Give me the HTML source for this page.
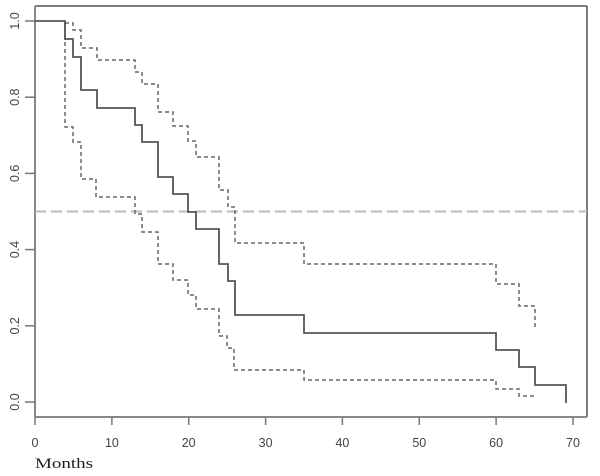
<!DOCTYPE html>
<html>
<head>
<meta charset="utf-8">
<style>
html,body{margin:0;padding:0;background:#fff;}
svg{display:block;}
</style>
</head>
<body>
<svg width="600" height="476" viewBox="0 0 600 476" xmlns="http://www.w3.org/2000/svg">
  <rect x="0" y="0" width="600" height="476" fill="#fff"/>
  <!-- box -->
  <line x1="35" y1="6" x2="587" y2="6" stroke="#555" stroke-width="1.5"/>
  <line x1="587" y1="6" x2="587" y2="417" stroke="#555" stroke-width="1.5"/>
  <line x1="35" y1="6" x2="35" y2="417" stroke="#888" stroke-width="2"/>
  <line x1="35" y1="417" x2="587" y2="417" stroke="#888" stroke-width="2"/>

  <!-- y ticks -->
  <g stroke="#777" stroke-width="1.5">
    <line x1="25" y1="21" x2="35" y2="21"/>
    <line x1="25" y1="97.2" x2="35" y2="97.2"/>
    <line x1="25" y1="173.4" x2="35" y2="173.4"/>
    <line x1="25" y1="249.6" x2="35" y2="249.6"/>
    <line x1="25" y1="325.8" x2="35" y2="325.8"/>
    <line x1="25" y1="402" x2="35" y2="402"/>
  </g>
  <g font-family="Liberation Sans, DejaVu Sans, sans-serif" font-size="12.5" fill="#444" text-anchor="middle">
    <text transform="translate(19,21) rotate(-90)">1.0</text>
    <text transform="translate(19,97.2) rotate(-90)">0.8</text>
    <text transform="translate(19,173.4) rotate(-90)">0.6</text>
    <text transform="translate(19,249.6) rotate(-90)">0.4</text>
    <text transform="translate(19,325.8) rotate(-90)">0.2</text>
    <text transform="translate(19,402) rotate(-90)">0.0</text>
  </g>

  <!-- x ticks -->
  <g stroke="#777" stroke-width="1.5">
    <line x1="35" y1="417" x2="35" y2="425"/>
    <line x1="111.9" y1="417" x2="111.9" y2="425"/>
    <line x1="188.7" y1="417" x2="188.7" y2="425"/>
    <line x1="265.6" y1="417" x2="265.6" y2="425"/>
    <line x1="342.4" y1="417" x2="342.4" y2="425"/>
    <line x1="419.3" y1="417" x2="419.3" y2="425"/>
    <line x1="496.1" y1="417" x2="496.1" y2="425"/>
    <line x1="573" y1="417" x2="573" y2="425"/>
  </g>
  <g font-family="Liberation Sans, DejaVu Sans, sans-serif" font-size="12.5" fill="#444" text-anchor="middle">
    <text x="35" y="447">0</text>
    <text x="111.9" y="447">10</text>
    <text x="188.7" y="447">20</text>
    <text x="265.6" y="447">30</text>
    <text x="342.4" y="447">40</text>
    <text x="419.3" y="447">50</text>
    <text x="496.1" y="447">60</text>
    <text x="573" y="447">70</text>
  </g>
  <text x="35" y="468" font-family="Liberation Serif, serif" font-size="15" fill="#222" textLength="58" lengthAdjust="spacingAndGlyphs">Months</text>

  <!-- median reference line -->
  <line x1="35" y1="211.5" x2="587" y2="211.5" stroke="#bbb" stroke-width="2" stroke-dasharray="11 5"/>

  <!-- confidence bands -->
  <path d="M65,23 H73 V30 H81 V48 H97 V60 H135 V72 H142 V84 H158 V112 H173 V126 H188 V141 H196 V157 H219 V190 H228 V207 H235 V243 H304 V264 H496 V284 H519 V306 H535 V329"
        fill="none" stroke="#666" stroke-width="1.5" stroke-dasharray="4 3"/>
  <path d="M65,21 V127 H73 V142 H81 V179 H96 V197 H135 V214 H142 V232 H158 V264 H173 V280 H188 V295 H196 V309 H219 V336 H227 V348 H234 V370 H304 V380 H496 V389 H519 V396 H535"
        fill="none" stroke="#666" stroke-width="1.5" stroke-dasharray="4 3"/>

  <!-- survival curve -->
  <path d="M35,21 H65 V39 H73 V57 H81 V90 H97 V108 H135 V125 H142 V142 H158 V177 H173 V194 H188 V212 H196 V229 H219 V264 H228 V281 H235 V315 H304 V333 H496 V350 H519 V367 H535 V385 H566 V403"
        fill="none" stroke="#555" stroke-width="1.8"/>
</svg>
</body>
</html>
